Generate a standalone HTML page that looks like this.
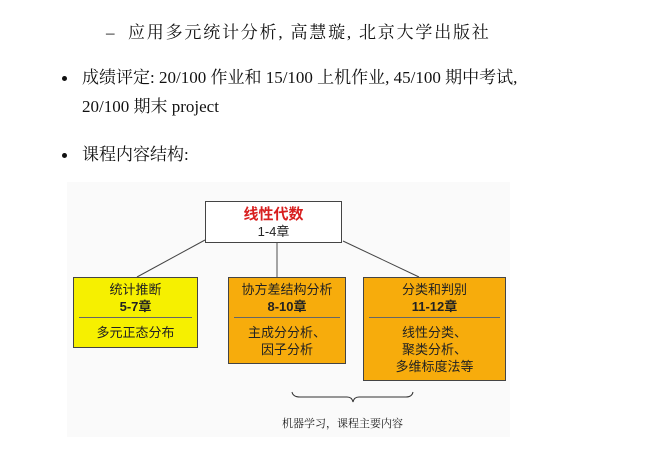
<!DOCTYPE html>
<html><head><meta charset="utf-8"><style>
body{margin:0;width:658px;height:453px;background:#fff;position:relative;overflow:hidden;font-family:"Liberation Serif","Noto Serif CJK SC",serif;color:#111}
.t{position:absolute;font-size:17px;white-space:nowrap;line-height:20px}
.b{position:absolute;width:5px;height:5px;border-radius:50%;background:#111}
.box{position:absolute;border:1.5px solid #444;box-sizing:border-box;font-family:"Liberation Sans","Noto Sans CJK SC",sans-serif;text-align:center;font-size:13px;color:#222}
.box .h{height:40px;border-bottom:1px solid #666;margin:0 5px;padding-top:3px;box-sizing:border-box;line-height:17px}
.box .c{padding-top:6px;line-height:17px}
</style></head><body>
<div class="t" style="left:106px;top:23px">–</div>
<div class="t" style="left:128px;top:23px;letter-spacing:1.8px">应用多元统计分析, 高慧璇, 北京大学出版社</div>
<div class="b" style="left:62px;top:76px"></div>
<div class="t" style="left:82px;top:68px">成绩评定: 20/100 作业和 15/100 上机作业, 45/100 期中考试,</div>
<div class="t" style="left:82px;top:97px">20/100 期末 project</div>
<div class="b" style="left:62px;top:153px"></div>
<div class="t" style="left:82px;top:145px">课程内容结构:</div>
<div style="position:absolute;left:67px;top:182px;width:443px;height:255px;background:#fafafa"></div>
<svg style="position:absolute;left:0;top:0" width="658" height="453">
<line x1="205" y1="240" x2="137" y2="277" stroke="#444" stroke-width="1"/>
<line x1="277" y1="242" x2="277" y2="277" stroke="#888" stroke-width="1.5"/>
<line x1="343" y1="241" x2="419" y2="277" stroke="#444" stroke-width="1"/>
<path d="M292 392 Q293 397 300 397 L347 397 Q352 397 353 402 Q354 397 359 397 L406 397 Q412 397 413 392" fill="none" stroke="#333" stroke-width="1"/>
<text x="282" y="427" font-family="Liberation Serif,Noto Serif CJK SC,serif" font-size="11" fill="#222">机器学习，课程主要内容</text>
</svg>
<div class="box" style="left:205px;top:201px;width:137px;height:42px;background:#fff;line-height:16px;padding-top:3px">
<div style="color:#d81e1e;font-weight:bold;font-size:15px;line-height:19px">线性代数</div><div>1-4章</div></div>
<div class="box" style="left:73px;top:277px;width:125px;height:71px;background:#f6f000">
<div class="h">统计推断<br><b>5-7章</b></div><div class="c">多元正态分布</div></div>
<div class="box" style="left:228px;top:277px;width:118px;height:87px;background:#f7ac0c">
<div class="h">协方差结构分析<br><b>8-10章</b></div><div class="c">主成分分析、<br>因子分析</div></div>
<div class="box" style="left:363px;top:277px;width:143px;height:104px;background:#f7ac0c">
<div class="h">分类和判别<br><b>11-12章</b></div><div class="c">线性分类、<br>聚类分析、<br>多维标度法等</div></div>
</body></html>
